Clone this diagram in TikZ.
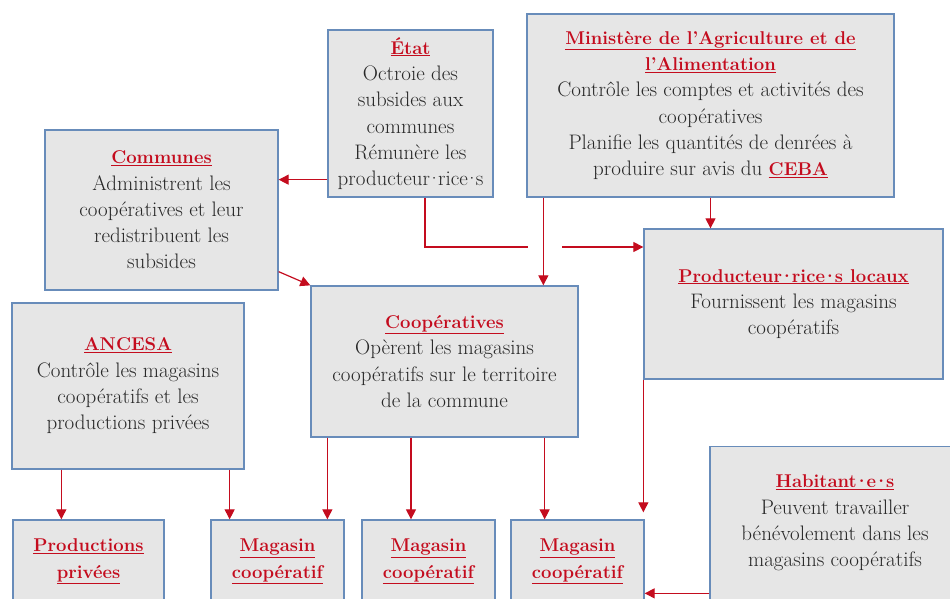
\documentclass[tikz,border=0pt]{standalone}
\usepackage{fontspec}
\usetikzlibrary{arrows.meta}

\definecolor{boxfill}{RGB}{230,230,230}
\definecolor{boxline}{RGB}{104,140,186}
\definecolor{titlered}{RGB}{196,12,30}
\definecolor{bodytext}{RGB}{40,40,40}
\newcommand{\ttl}[1]{{\color{titlered}\fontsize{18.5}{26.3}\selectfont\bfseries\underline{#1}}}
\newcommand{\mdot}{\kern-0.17em·\kern-0.17em}

\begin{document}
\begin{tikzpicture}[x=1pt,y=-1pt,
  actorbox/.style={rectangle,draw=boxline,fill=boxfill,line width=1.3pt,inner sep=0pt,
    align=center,text=bodytext,font=\fontsize{21}{26.3}\selectfont},
  link/.style={draw=titlered,line width=1.2pt},
  arr/.style={link,-{Triangle[width=10pt,length=10pt]}}]
  \useasboundingbox (0,0) rectangle (950,598);
  \clip (0,0) rectangle (950,598);
  \path
(410.5,113.5) node[actorbox,minimum width=165pt,minimum height=167pt] (etat)
  {\ttl{État}\\Octroie des\\subsides aux\\communes\\Rémunère les\\producteur\mdot rice\mdot s}
(710.5,105.5) node[actorbox,minimum width=367pt,minimum height=183pt] (mini)
  {\ttl{Ministère de l’Agriculture et de}\\\ttl{l’Alimentation}\\Contrôle les comptes et activités des\\coopératives\\Planifie les quantités de denrées à\\produire sur avis du \ttl{CEBA}}
(161.5,210) node[actorbox,minimum width=233pt,minimum height=160pt] (communes)
  {\ttl{Communes}\\Administrent les\\coopératives et leur\\redistribuent les\\subsides}
(444.5,361.5) node[actorbox,minimum width=267pt,minimum height=151pt] (coop)
  {\ttl{Coopératives}\\Opèrent les magasins\\coopératifs sur le territoire\\de la commune}
(793.5,304) node[actorbox,minimum width=299pt,minimum height=150pt] (prod)
  {\ttl{Producteur\mdot rice\mdot s locaux}\\Fournissent les magasins\\coopératifs}
(128,386) node[actorbox,minimum width=232pt,minimum height=166pt] (ancesa)
  {\ttl{ANCESA}\\Contrôle les magasins\\coopératifs et les\\productions privées}
(88.5,561.5) node[actorbox,minimum width=151pt,minimum height=83pt] (privees)
  {\ttl{Productions}\\\ttl{privées}}
(277.5,561.5) node[actorbox,minimum width=133pt,minimum height=83pt] (mag1)
  {\ttl{Magasin}\\\ttl{coopératif}}
(428.5,561.5) node[actorbox,minimum width=133pt,minimum height=83pt] (mag2)
  {\ttl{Magasin}\\\ttl{coopératif}}
(577.5,561.5) node[actorbox,minimum width=133pt,minimum height=83pt] (mag3)
  {\ttl{Magasin}\\\ttl{coopératif}}
(835,523) node[actorbox,minimum width=250pt,minimum height=153pt] (hab)
  {\ttl{Habitant\mdot e\mdot s}\\Peuvent travailler\\bénévolement dans les\\magasins coopératifs};

  \coordinate (gapL) at (528,247);
  \coordinate (gapR) at (562,247);
  \coordinate (habin) at ([yshift=-74pt]mag3.north east);
  \coordinate (prodin) at ([yshift=7pt]mag3.north east);

  \draw[arr] ([yshift=18pt]etat.south west) -- ([yshift=18pt]etat.south west -| communes.east);
  \draw[link] ([xshift=14.5pt]etat.south) |- (gapL);
  \draw[arr] (gapR) -- (gapR -| prod.west);
  \draw[arr] ([xshift=17pt]mini.south west) -- ([xshift=17pt]mini.south west |- coop.north);
  \draw[arr] (mini.south) -- (mini.south |- prod.north);
  \draw[arr] ([yshift=19pt]communes.south east) -- (coop.north west);
  \draw[arr] ([xshift=50pt]ancesa.south west) -- ([xshift=50pt]ancesa.south west |- privees.north);
  \draw[arr] ([xshift=-15pt]ancesa.south east) -- ([xshift=-15pt]ancesa.south east |- mag1.north);
  \draw[arr] ([xshift=17pt]coop.south west) -- ([xshift=17pt]coop.south west |- mag1.north);
  \draw[arr] ([xshift=-33.5pt]coop.south) -- ([xshift=-33.5pt]coop.south |- mag2.north);
  \draw[arr] ([xshift=-34pt]coop.south east) -- ([xshift=-34pt]coop.south east |- mag3.north);
  \draw[arr] (prod.south west) -- (prod.south west |- prodin);
  \draw[arr] (habin -| hab.west) -- (habin);
\end{tikzpicture}
\end{document}
